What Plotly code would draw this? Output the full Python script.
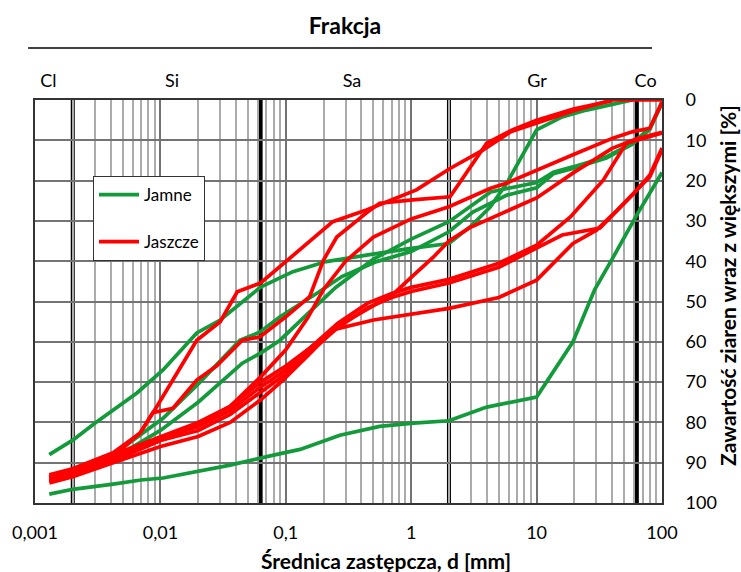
import plotly.graph_objects as go

# ---------------- data (d in mm, p in %) ----------------
# Jamne (green)
d_jamne_1 = [0.0013, 0.002, 0.0042, 0.007, 0.0105, 0.0195, 0.036, 0.075, 0.13, 0.27, 0.56, 1.04, 2.0, 4.0, 10.0, 19.5, 29.0, 40.0, 63.0, 100.0]
p_jamne_1 = [97.8, 96.6, 95.3, 94.3, 93.8, 92.3, 90.6, 88.3, 86.7, 83.2, 81.0, 80.2, 79.6, 76.2, 73.7, 60.0, 47.1, 39.5, 28.5, 18.0]

d_jamne_2 = [0.0013, 0.002, 0.003, 0.0048, 0.0065, 0.0105, 0.0195, 0.03, 0.045, 0.063, 0.114, 0.21, 0.44, 1.0, 2.0, 2.94, 4.25, 5.8, 10.0, 16.0, 25.0, 38.0, 58.0]
p_jamne_2 = [88.0, 84.4, 80.2, 75.7, 72.7, 67.0, 57.8, 54.6, 50.1, 46.4, 42.6, 40.1, 38.5, 36.8, 35.6, 31.5, 26.6, 20.6, 7.4, 4.2, 2.5, 1.2, 0.0]

d_jamne_3 = [0.0013, 0.002, 0.0042, 0.007, 0.0105, 0.0207, 0.043, 0.062, 0.09, 0.176, 0.28, 0.53, 1.0, 2.0, 3.1, 5.8, 10.0, 13.6, 19.5, 36.0, 58.0, 80.0, 100.0]
p_jamne_3 = [94.0, 92.5, 88.0, 83.0, 79.0, 70.0, 59.6, 57.6, 53.8, 48.0, 43.8, 40.1, 37.6, 32.7, 27.8, 23.6, 21.8, 18.3, 17.0, 14.4, 11.0, 7.3, 0.8]

d_jamne_4 = [0.0013, 0.002, 0.0042, 0.01, 0.02, 0.03, 0.045, 0.063, 0.09, 0.15, 0.25, 0.5, 1.0, 2.0, 4.3, 10.0, 13.6, 19.5, 36.0, 58.0, 80.0, 100.0]
p_jamne_4 = [94.5, 93.0, 89.0, 82.0, 75.0, 70.0, 65.3, 62.8, 59.6, 53.0, 46.5, 39.5, 34.5, 30.2, 22.8, 20.5, 17.9, 16.6, 14.1, 10.7, 7.0, 0.5]

# Jaszcze (red)
d_jaszcze_1 = [0.0013, 0.002, 0.0042, 0.0069, 0.0094, 0.0136, 0.0195, 0.03, 0.041, 0.063, 0.114, 0.237, 0.44, 1.1, 2.04, 3.7, 6.2, 11.0, 20.0, 40.0, 63.0, 100.0]
p_jaszcze_1 = [93.5, 91.5, 87.5, 82.6, 76.0, 67.7, 59.6, 55.0, 47.6, 45.4, 38.5, 30.2, 27.3, 22.3, 17.0, 12.5, 7.9, 5.4, 2.6, 0.0, 0.0, 0.0]

d_jaszcze_2 = [0.0013, 0.002, 0.0042, 0.0069, 0.0087, 0.0126, 0.0195, 0.028, 0.045, 0.062, 0.1, 0.155, 0.2, 0.255, 0.44, 0.56, 1.03, 2.04, 4.0, 6.4, 10.0, 20.0, 40.0]
p_jaszcze_2 = [94.0, 92.6, 88.5, 82.6, 77.6, 76.5, 69.5, 66.0, 59.6, 58.8, 53.8, 48.8, 39.7, 34.0, 28.0, 25.6, 24.8, 24.0, 10.7, 7.4, 5.0, 2.2, 0.2]

d_jaszcze_3 = [0.0013, 0.002, 0.0042, 0.01, 0.02, 0.036, 0.063, 0.1, 0.15, 0.2, 0.3, 0.5, 1.0, 2.0, 3.0, 4.3, 5.8, 10.0, 19.5, 41.0, 58.0, 80.0, 100.0]
p_jaszcze_3 = [94.5, 93.0, 89.5, 84.5, 80.5, 76.0, 68.7, 62.0, 54.0, 47.0, 40.0, 34.0, 29.5, 26.5, 24.0, 21.9, 20.6, 17.4, 13.6, 9.4, 7.9, 7.0, 0.5]

d_jaszcze_4 = [0.0013, 0.002, 0.0042, 0.01, 0.02, 0.036, 0.063, 0.1, 0.2, 0.3, 0.5, 0.7, 1.0, 1.5, 2.0, 3.0, 4.0, 10.0, 20.0, 40.0, 63.0, 100.0]
p_jaszcze_4 = [93.0, 91.5, 88.0, 83.5, 80.0, 76.0, 70.0, 66.0, 59.0, 55.0, 51.0, 48.5, 44.0, 39.0, 35.0, 31.5, 29.8, 24.3, 17.9, 12.0, 9.6, 8.0]

d_jaszcze_5 = [0.0013, 0.002, 0.0042, 0.01, 0.02, 0.036, 0.063, 0.1, 0.15, 0.26, 0.45, 0.7, 1.0, 2.0, 5.0, 10.0, 18.6, 34.0, 52.0, 63.0, 100.0]
p_jaszcze_5 = [93.5, 92.0, 88.5, 84.0, 81.0, 77.0, 71.2, 67.0, 62.0, 55.4, 50.4, 48.0, 46.5, 44.5, 40.5, 36.0, 29.0, 19.9, 10.7, 9.9, 8.2]

d_jaszcze_6 = [0.0013, 0.002, 0.0042, 0.01, 0.02, 0.036, 0.063, 0.1, 0.15, 0.26, 0.45, 0.7, 1.0, 2.0, 5.0, 10.0, 16.0, 32.0, 58.0, 80.0, 100.0]
p_jaszcze_6 = [94.0, 92.5, 89.0, 84.5, 82.0, 78.0, 72.5, 68.0, 63.0, 56.5, 51.5, 49.0, 47.5, 45.4, 41.5, 36.7, 33.5, 31.8, 23.6, 18.6, 11.9]

d_jaszcze_7 = [0.0013, 0.002, 0.0042, 0.01, 0.02, 0.036, 0.063, 0.095, 0.147, 0.24, 0.5, 1.03, 2.0, 5.0, 10.0, 19.5, 30.0, 44.0, 63.0, 80.0, 100.0]
p_jaszcze_7 = [95.0, 93.5, 90.0, 86.0, 83.5, 80.0, 74.4, 69.5, 63.7, 57.0, 54.6, 53.0, 51.7, 49.0, 44.7, 35.6, 32.3, 27.3, 22.3, 19.0, 12.4]

jamne = [(d_jamne_1, p_jamne_1), (d_jamne_2, p_jamne_2), (d_jamne_3, p_jamne_3), (d_jamne_4, p_jamne_4)]
jaszcze = [(d_jaszcze_1, p_jaszcze_1), (d_jaszcze_2, p_jaszcze_2), (d_jaszcze_3, p_jaszcze_3),
           (d_jaszcze_4, p_jaszcze_4), (d_jaszcze_5, p_jaszcze_5), (d_jaszcze_6, p_jaszcze_6),
           (d_jaszcze_7, p_jaszcze_7)]

fraction_bounds = [0.002, 0.063, 2.0, 63.0]
fraction_labels = ["Cl", "Si", "Sa", "Gr", "Co"]
fraction_label_pos = [0.00128, 0.0124, 0.337, 10.1, 74.0]

x_ticks = [0.001, 0.01, 0.1, 1, 10, 100]
x_ticktext = ["0,001", "0,01", "0,1", "1", "10", "100"]
x_minor = [m * 10.0 ** e for e in range(-3, 2) for m in range(2, 10)]
y_ticks = list(range(0, 101, 10))

GREEN = "#139a3b"
RED = "#ff0000"
FONT = "Lato"

fig = go.Figure()
for i, (d, p) in enumerate(jamne):
    fig.add_trace(go.Scatter(x=d, y=p, mode="lines", name="Jamne", legendgroup="Jamne",
                             showlegend=(i == 0), line=dict(color=GREEN, width=3.7)))
for i, (d, p) in enumerate(jaszcze):
    fig.add_trace(go.Scatter(x=d, y=p, mode="lines", name="Jaszcze", legendgroup="Jaszcze",
                             showlegend=(i == 0), line=dict(color=RED, width=3.7)))

# invisible trace to carry the top fraction axis
fig.add_trace(go.Scatter(x=[0.001, 100], y=[0, 0], xaxis="x2", mode="lines",
                         line=dict(width=0), opacity=0, showlegend=False, hoverinfo="skip"))

for b in fraction_bounds:
    fig.add_shape(type="line", xref="x", yref="paper", x0=b, x1=b, y0=0, y1=1,
                  line=dict(color="black", width=4), layer="between")

# line under the "Frakcja" header
fig.add_shape(type="line", xref="paper", yref="paper", x0=-0.011, x1=0.984, y0=1.129, y1=1.129,
              line=dict(color="black", width=1.5))

fig.update_layout(
    width=741, height=572,
    margin=dict(l=35, r=79, t=100, b=69),
    paper_bgcolor="white", plot_bgcolor="white",
    font=dict(family=FONT, size=18, color="black"),
    title=dict(text="<b>Frakcja</b>", x=345 / 741, xanchor="center", y=1 - 26 / 572, yanchor="middle",
               font=dict(family=FONT, size=23, color="black")),
    xaxis=dict(type="log", range=[-3, 2], tickmode="array", tickvals=x_ticks, ticktext=x_ticktext,
               showgrid=True, gridcolor="#737373", gridwidth=1.5,
               minor=dict(tickvals=x_minor, showgrid=True, gridcolor="#ababab", gridwidth=1.5, ticks=""),
               ticks="", showline=True, mirror=True, linecolor="#333333", linewidth=2,
               zeroline=False, ticklabelstandoff=12, tickfont=dict(size=18)),
    xaxis2=dict(type="log", range=[-3, 2], overlaying="x", side="top", anchor="y",
                tickmode="array", tickvals=fraction_label_pos, ticktext=fraction_labels,
                showgrid=False, ticks="", showline=False, zeroline=False,
                ticklabelstandoff=8, tickfont=dict(size=18)),
    yaxis=dict(range=[100, 0], side="right", tickmode="array", tickvals=y_ticks,
               showgrid=True, gridcolor="#737373", gridwidth=1.5, ticks="",
               showline=True, mirror=True, linecolor="#333333", linewidth=2, zeroline=False,
               ticklabelstandoff=18, tickfont=dict(size=18)),
    legend=dict(x=(93 - 35) / 627, y=(503 - 176) / 403, xanchor="left", yanchor="top",
                bgcolor="white", bordercolor="#333333", borderwidth=1, itemwidth=40,
                font=dict(family=FONT, size=17), tracegroupgap=22, traceorder="grouped"),
    showlegend=True,
)

fig.add_annotation(text="<b>Średnica zastępcza, d [mm]</b>", xref="paper", yref="paper",
                   x=(386 - 35) / 627, y=(503 - 560) / 403, xanchor="center", yanchor="middle",
                   showarrow=False, font=dict(family=FONT, size=21))
fig.add_annotation(text="<b>Zawartość ziaren wraz z większymi [%]</b>", xref="paper", yref="paper",
                   x=(727 - 35) / 627, y=(503 - 286) / 403, xanchor="center", yanchor="middle",
                   textangle=-90, showarrow=False, font=dict(family=FONT, size=21))

fig.write_html("out.html")
